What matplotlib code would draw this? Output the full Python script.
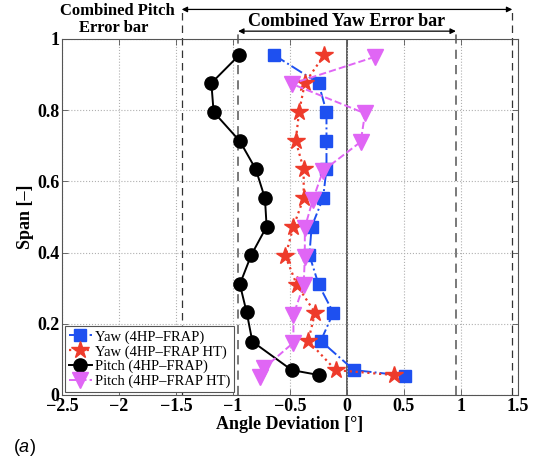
#! /usr/bin/env python3

"Angle deviation along the span for yaw and pitch, 4HP-FRAP probe with and without HT"

import matplotlib
matplotlib.use("Agg")
import matplotlib.pyplot as plt

plt.rcParams['font.family'] = ['Liberation Serif', 'DejaVu Serif']
plt.rcParams['mathtext.fontset'] = 'custom'
plt.rcParams['mathtext.it'] = 'Liberation Sans:italic'
plt.rcParams['mathtext.rm'] = 'Liberation Sans'

# yaw, 4HP-FRAP
yaw_span = [0.955, 0.876, 0.795, 0.713, 0.634, 0.553, 0.473, 0.393, 0.311, 0.231, 0.152, 0.070, 0.054]
yaw_dev = [-0.64, -0.25, -0.18, -0.18, -0.18, -0.21, -0.31, -0.33, -0.25, -0.12, -0.23, 0.06, 0.51]

# yaw, 4HP-FRAP HT
yaw_ht_span = [0.955, 0.876, 0.796, 0.714, 0.634, 0.553, 0.473, 0.390, 0.309, 0.231, 0.152, 0.070, 0.056]
yaw_ht_dev = [-0.20, -0.37, -0.42, -0.45, -0.38, -0.38, -0.47, -0.54, -0.44, -0.28, -0.34, -0.10, 0.41]

# pitch, 4HP-FRAP
pitch_span = [0.955, 0.876, 0.795, 0.713, 0.634, 0.553, 0.473, 0.393, 0.311, 0.232, 0.150, 0.070, 0.056]
pitch_dev = [-0.945, -1.19, -1.17, -0.94, -0.80, -0.72, -0.705, -0.84, -0.94, -0.88, -0.83, -0.485, -0.246]

# pitch, 4HP-FRAP HT
pitch_ht_span = [0.950, 0.874, 0.791, 0.711, 0.630, 0.548, 0.470, 0.388, 0.309, 0.225, 0.147, 0.075, 0.051]
pitch_ht_dev = [0.246, -0.485, 0.158, 0.12, -0.21, -0.30, -0.37, -0.37, -0.38, -0.47, -0.47, -0.73, -0.76]

yaw_err = 0.955
pitch_err = 1.45

x_ticks = [-2.5, -2, -1.5, -1, -0.5, 0, 0.5, 1, 1.5]
x_labels = ['\u22122.5', '\u22122', '\u22121.5', '\u22121', '\u22120.5', '0', '0.5', '1', '1.5']
y_ticks = [0, 0.2, 0.4, 0.6, 0.8, 1]
y_labels = ['0', '0.2', '0.4', '0.6', '0.8', '1']

fig = plt.figure(figsize=(5.36, 4.76), dpi=100)
ax = fig.add_axes([0.1157, 0.1702, 0.8507, 0.7479])

ax.set_xlim(-2.5, 1.5)
ax.set_ylim(0, 1)
ax.grid(True, linestyle=':', color='#b0b0b0', linewidth=0.8)
ax.axvline(0, color='#333333', linewidth=1.1, zorder=1)

# combined error bar limits, run up above the axes
for xv in [-pitch_err, pitch_err]:
    ax.plot([xv, xv], [0, 1.083], linestyle=(0, (6, 4)), color='#333333', linewidth=0.9,
            clip_on=False, zorder=1)
for xv in [-yaw_err, yaw_err]:
    ax.plot([xv, xv], [0, 1.022], linestyle=(0, (6, 4)), color='#555555', linewidth=1.1,
            clip_on=False, zorder=1)

ax.annotate('', xy=(-pitch_err, 1.083), xytext=(pitch_err, 1.083), xycoords='data',
            arrowprops=dict(arrowstyle='<|-|>', color='black', lw=0.9, mutation_scale=8,
                            shrinkA=0, shrinkB=0), annotation_clip=False)
ax.annotate('', xy=(-yaw_err, 1.022), xytext=(yaw_err, 1.022), xycoords='data',
            arrowprops=dict(arrowstyle='<|-|>', color='black', lw=0.9, mutation_scale=8,
                            shrinkA=0, shrinkB=0), annotation_clip=False)
ax.text(0, 1.05, 'Combined Yaw Error bar', ha='center', va='center',
        fontsize=13, fontweight='bold')
ax.text(-2.01, 1.08, 'Combined Pitch', ha='center', va='center',
        fontsize=12, fontweight='bold')
ax.text(-2.05, 1.031, 'Error bar', ha='center', va='center',
        fontsize=12, fontweight='bold')

ax.plot(yaw_dev, yaw_span, linestyle='-.', color='#1e50f0', linewidth=1.4,
        marker='s', markersize=8, label='Yaw (4HP\u2013FRAP)', zorder=3)
ax.plot(yaw_ht_dev, yaw_ht_span, linestyle=':', color='#ee3b2b', linewidth=1.6,
        marker='*', markersize=13, label='Yaw (4HP\u2013FRAP HT)', zorder=3)
ax.plot(pitch_dev, pitch_span, linestyle='-', color='black', linewidth=1.4,
        marker='o', markersize=9.5, label='Pitch (4HP\u2013FRAP)', zorder=3)
ax.plot(pitch_ht_dev, pitch_ht_span, linestyle='--', color='#e066f5', linewidth=1.4,
        marker='v', markersize=11, label='Pitch (4HP\u2013FRAP HT)', zorder=3)

ax.set_xticks(x_ticks)
ax.set_xticklabels(x_labels, fontsize=13, fontweight='bold')
ax.set_yticks(y_ticks)
ax.set_yticklabels(y_labels, fontsize=13, fontweight='bold')
ax.tick_params(direction='in', length=4, width=0.6, top=True, right=True, pad=2, color='#555555')
for s in ax.spines.values():
    s.set_color('#555555')
    s.set_linewidth(0.8)

ax.set_xlabel('Angle Deviation [\u00b0]', fontsize=13, fontweight='bold', labelpad=1)
ax.set_ylabel('Span [\u2013]', fontsize=13, fontweight='bold', labelpad=2)

leg = ax.legend(loc='lower left', fontsize=10.5, handlelength=1.6, handletextpad=0.2,
                borderpad=0.25, labelspacing=0.1, borderaxespad=0.2, fancybox=False,
                edgecolor='#555555', framealpha=1)
leg.get_frame().set_linewidth(0.8)

fig.text(0.025, 0.05, r'($\it{a}$)', fontsize=13, family='Liberation Sans')

plt.savefig('out.png', dpi=100)
